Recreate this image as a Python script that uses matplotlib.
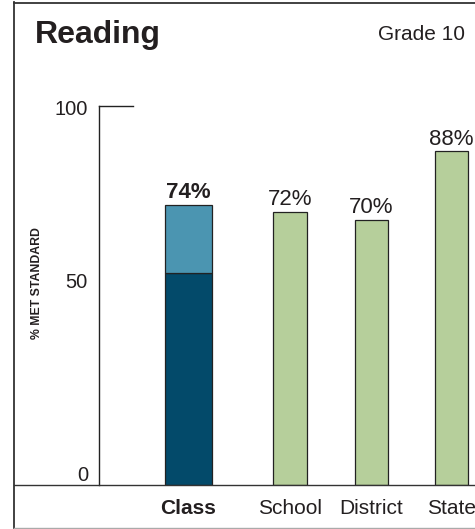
import matplotlib
matplotlib.use('Agg')
import matplotlib.pyplot as plt
from matplotlib import font_manager
from matplotlib.lines import Line2D
from matplotlib.transforms import blended_transform_factory, offset_copy

# ---------------- data ----------------
categories = ['Class', 'School', 'District', 'State']
values = [74, 72, 70, 88]
value_labels = ['74%', '72%', '70%', '88%']
class_lower = 56          # darker lower segment of the Class bar
y_ticks = [0, 50, 100]
y_tick_labels = ['0', '50', '100']
title = 'Reading'
subtitle = 'Grade 10'
y_label = '% MET STANDARD'

# ---------------- style / layout ----------------
plt.rcParams['font.family'] = ['Liberation Sans', 'DejaVu Sans']
TXT = '#231f20'
DARK = '#034a6a'
LIGHT = '#4b95b1'
GREEN = '#b6cf9b'
EDGE = '#222222'

W, H = 475, 529
fig = plt.figure(figsize=(W / 100, H / 100), dpi=100)

def fx(px):
    return px / W

def fy(py):
    return 1 - py / H

ax = fig.add_axes([fx(99), fy(485), fx(475) - fx(99), fy(106) - fy(485)])
ax.set_ylim(0, 100)
ax.set_xlim(-1.021, 3.268)

x_pos = [0, 1.158, 2.087, 3.0]
widths = [0.536, 0.382, 0.382, 0.37]

# Class bar: two segments
ax.bar(x_pos[0], class_lower, width=widths[0], color=DARK, edgecolor=EDGE, linewidth=0.9)
ax.bar(x_pos[0], values[0] - class_lower, bottom=class_lower, width=widths[0],
       color=LIGHT, edgecolor=EDGE, linewidth=0.9)
# Comparison bars
for i in range(1, len(categories)):
    ax.bar(x_pos[i], values[i], width=widths[i], color=GREEN, edgecolor=EDGE, linewidth=0.9)

# value labels
for i, (v, lab) in enumerate(zip(values, value_labels)):
    ax.annotate(lab, (x_pos[i], v), xytext=(0, 5), textcoords='offset points',
                ha='center', va='baseline', fontsize=16, color=TXT,
                fontweight='bold' if i == 0 else 'normal', annotation_clip=False)

# category labels
tr_cat = blended_transform_factory(ax.transData, fig.transFigure)
for i, c in enumerate(categories):
    ax.text(x_pos[i], fy(514), c, transform=tr_cat, ha='center', va='baseline',
            fontsize=15, color=TXT, fontweight='bold' if i == 0 else 'normal',
            clip_on=False)

# axes styling
for s in ['top', 'right', 'bottom']:
    ax.spines[s].set_visible(False)
ax.spines['left'].set_color(EDGE)
ax.spines['left'].set_linewidth(1.0)
ax.set_xticks([])
ax.set_yticks([])
ax.patch.set_alpha(0)
ax.axhline(100, xmin=0, xmax=34 / 376, color=EDGE, linewidth=1.0, clip_on=False)

# y tick labels (offsets in points, reproducing the reference placement)
tick_dy = [7, 9, -2.5]
tr_tick = blended_transform_factory(fig.transFigure, ax.transData)
for t, lab, dy in zip(y_ticks, y_tick_labels, tick_dy):
    ax.text(fx(88), t, lab, ha='right', va='center', fontsize=14.5, color=TXT,
            transform=offset_copy(tr_tick, fig=fig, x=0, y=dy, units='points'),
            clip_on=False)

# y axis title (condensed bold if available)
names = {f.name for f in font_manager.fontManager.ttflist}
if 'Liberation Sans Narrow' in names:
    yl_family, yl_size = ['Liberation Sans Narrow', 'DejaVu Sans'], 9.8
else:
    yl_family, yl_size = ['Liberation Sans', 'DejaVu Sans'], 8.8
fig.text(fx(37.5), fy(283), y_label, rotation=90, ha='center', va='center',
         fontsize=yl_size, fontweight='bold', family=yl_family, color=TXT)

# titles
fig.text(fx(35), fy(43), title, fontsize=23, fontweight='bold', color=TXT,
         ha='left', va='baseline')
fig.text(fx(465), fy(39.5), subtitle, fontsize=15, color=TXT, ha='right', va='baseline')

# frame lines
fig.add_artist(Line2D([fx(14), fx(14)], [fy(2), fy(528)], transform=fig.transFigure,
                      color='#333333', linewidth=1.3))
fig.add_artist(Line2D([fx(14), fx(475)], [fy(2.5), fy(2.5)], transform=fig.transFigure,
                      color='#333333', linewidth=1.3))
fig.add_artist(Line2D([fx(14), fx(475)], [fy(528), fy(528)], transform=fig.transFigure,
                      color='#aaaaaa', linewidth=1.0))
fig.add_artist(Line2D([fx(14), fx(475)], [fy(485), fy(485)], transform=fig.transFigure,
                      color='#333333', linewidth=1.0))

fig.savefig('out.png', dpi=100)
